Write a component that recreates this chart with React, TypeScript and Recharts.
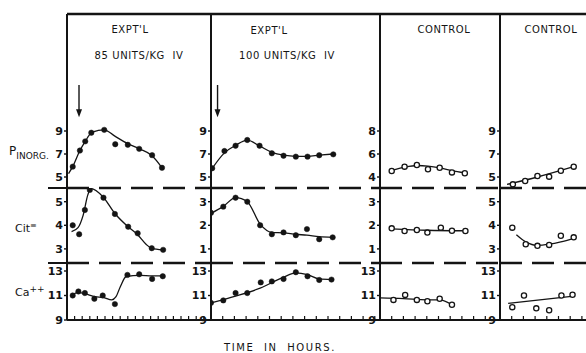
import React from "react";
import { LineChart, Line, XAxis, YAxis, ReferenceLine } from "recharts";

type Pt = { t: number; v: number };
const zip = (t: number[], v: number[]): Pt[] => t.map((x, i) => ({ t: x, v: v[i] }));

const INK = "#141414";
const FONT = "'DejaVu Sans', sans-serif";

// ---- data (t = time, in axis tick steps; v = value) ----
// panel 1: expt'l 85 units/kg IV
const p1PinT = [0.75, 1.7, 2.4, 3.2, 4.9, 6.35, 8.0, 9.5, 11.2, 12.5];
const p1Pin = [5.9, 7.3, 8.1, 8.85, 9.1, 7.85, 7.8, 7.45, 6.9, 5.8];
const p1PinFitT = [0.2, 0.75, 1.7, 2.4, 3.2, 4.1, 4.9, 6.3, 8.0, 9.5, 11.2, 12.5];
const p1PinFit = [5.3, 5.9, 7.3, 8.1, 8.85, 9.05, 9.1, 8.55, 7.9, 7.45, 6.85, 5.8];
const p1CitT = [0.75, 1.6, 2.35, 3.0, 4.8, 6.3, 8.05, 9.3, 11.15, 12.65];
const p1Cit = [4.0, 3.62, 4.65, 5.5, 5.17, 4.48, 3.94, 3.66, 3.03, 2.96];
const p1CitFitT = [0.6, 1.45, 2.1, 2.75, 3.15, 4.75, 6.3, 8.0, 9.3, 10.4, 11.15, 12.6];
const p1CitFit = [3.73, 3.9, 4.4, 5.3, 5.55, 5.2, 4.5, 3.95, 3.6, 3.2, 3.02, 2.96];
const p1CaT = [0.75, 1.5, 2.35, 3.6, 4.7, 6.3, 7.95, 9.5, 11.2, 12.6];
const p1Ca = [11.0, 11.33, 11.2, 10.73, 11.0, 10.3, 12.68, 12.73, 12.35, 12.57];
const p1CaFitT = [0.65, 1.45, 2.35, 3.7, 4.75, 5.9, 6.45, 7.0, 7.8, 9.6, 11.2, 12.6];
const p1CaFit = [11.0, 11.25, 11.15, 10.9, 10.85, 10.65, 10.9, 11.7, 12.55, 12.65, 12.6, 12.6];

// panel 2: expt'l 100 units/kg IV
const p2PinT = [0.1, 1.15, 2.1, 3.1, 4.15, 5.2, 6.2, 7.25, 8.25, 9.25, 10.45];
const p2Pin = [5.76, 7.26, 7.72, 8.22, 7.72, 7.06, 6.85, 6.77, 6.77, 6.89, 6.97];
const p2PinFitT = [0, 1.15, 2.1, 3.1, 4.15, 5.2, 6.2, 7.25, 8.25, 9.25, 10.45];
const p2PinFit = [5.6, 7.1, 7.75, 8.2, 7.7, 7.15, 6.9, 6.8, 6.8, 6.9, 7.0];
const p2CitT = [0.0, 1.05, 2.1, 3.1, 4.2, 5.2, 6.2, 7.25, 8.2, 9.25, 10.4];
const p2Cit = [2.53, 2.79, 3.17, 3.0, 2.0, 1.62, 1.7, 1.58, 1.84, 1.41, 1.49];
const p2CitFit = [2.5, 2.8, 3.17, 3.0, 2.05, 1.7, 1.68, 1.62, 1.58, 1.52, 1.49];
const p2CaT = [0.0, 1.05, 2.1, 3.1, 4.25, 5.2, 6.2, 7.25, 8.25, 9.25, 10.3];
const p2Ca = [10.4, 10.6, 11.2, 11.2, 12.07, 12.15, 12.35, 12.9, 12.57, 12.27, 12.3];
const p2CaFitT = [0, 2.1, 4.2, 6.2, 7.25, 8.25, 9.25, 10.3];
const p2CaFit = [10.4, 10.95, 11.6, 12.5, 12.85, 12.7, 12.35, 12.3];

// panel 3: control
const p3PinT = [1.0, 2.1, 3.15, 4.1, 5.1, 6.15, 7.25];
const p3Pin = [4.52, 4.9, 5.04, 4.67, 4.81, 4.4, 4.32];
const p3PinFit = [4.55, 4.85, 5.0, 4.95, 4.8, 4.55, 4.35];
const p3CitT = [1.0, 2.1, 3.15, 4.05, 5.2, 6.15, 7.3];
const p3Cit = [1.87, 1.76, 1.8, 1.69, 1.9, 1.77, 1.76];
const p3CitFitT = [1.0, 4.0, 7.3];
const p3CitFit = [1.85, 1.79, 1.77];
const p3CaT = [1.15, 2.15, 3.15, 4.05, 5.1, 6.15];
const p3Ca = [10.64, 11.05, 10.64, 10.53, 10.73, 10.24];
const p3CaFitT = [0, 2.0, 4.0, 5.1, 6.15];
const p3CaFit = [10.8, 10.75, 10.65, 10.65, 10.25];

// panel 4: control
const p4PinT = [1.1, 2.15, 3.2, 4.2, 5.2, 6.3];
const p4Pin = [4.36, 4.65, 5.09, 5.03, 5.55, 5.9];
const p4PinFitT = [0.6, 3.2, 6.3];
const p4PinFit = [4.35, 5.0, 5.9];
const p4CitT = [1.05, 2.2, 3.2, 4.2, 5.2, 6.3];
const p4Cit = [3.9, 3.2, 3.13, 3.17, 3.56, 3.49];
const p4CitFitT = [1.4, 2.2, 3.2, 4.2, 5.2, 6.3];
const p4CitFit = [3.6, 3.3, 3.15, 3.2, 3.3, 3.45];
const p4CaT = [1.05, 2.05, 3.1, 4.2, 5.25, 6.2];
const p4Ca = [10.05, 11.0, 9.95, 9.8, 11.0, 11.06];
const p4CaFitT = [0.7, 6.3];
const p4CaFit = [10.35, 10.95];

// tick labels
const P_TICKS = [[5, 7, 9], [5, 7, 9], [4, 6, 8], [5, 7, 9]];
const CIT_TICKS = [[3, 4, 5], [1, 2, 3], [1, 2, 3], [3, 4, 5]];
const CA_TICKS = [9, 11, 13];
const ARROW_T = [1.58, 0.56];
const ARROW_TOP = 13.0;
const ARROW_TIP = 10.2;

// ---- layout ----
const AXIS_X = [67, 211, 380, 500];
const PANEL_W = [144, 169, 120, 86];
const TICK_PX = [7.6, 11.7, 11.7, 11.7];
const Y_W = 22;

type BandKey = "p" | "cit" | "ca";
const BANDS: Record<BandKey, { top: number; bottom: number; refPx: number; ppu: number }> = {
  p: { top: 14, bottom: 188, refPx: 131, ppu: 11.5 },
  cit: { top: 188, bottom: 263, refPx: 201.7, ppu: 23.6 },
  ca: { top: 263, bottom: 320, refPx: 320, ppu: 12.25 },
};

const UpTick = (props: any) => {
  const { x, y } = props;
  return <line x1={x} x2={x} y1={y} y2={y - 4} stroke={INK} strokeWidth={1.2} />;
};

const Arrow = (props: any) => {
  const { x1, y1, x2, y2 } = props;
  return (
    <g>
      <line x1={x1} y1={y1} x2={x2} y2={y2 - 6} stroke={INK} strokeWidth={1.4} />
      <polygon points={`${x2 - 3},${y2 - 8} ${x2 + 3},${y2 - 8} ${x2},${y2}`} fill={INK} />
    </g>
  );
};

interface BandProps {
  panel: number;
  band: BandKey;
  fit: Pt[];
  obs: Pt[];
  ticks: number[];
  hollow?: boolean;
  arrowT?: number;
}

function Band({ panel, band, fit, obs, ticks, hollow, arrowT }: BandProps) {
  const g = BANDS[band];
  const ref = band === "ca" ? ticks[0] : ticks[ticks.length - 1];
  const lo = ref - (g.bottom - g.refPx) / g.ppu;
  const hi = ref + (g.refPx - g.top) / g.ppu;
  const xMax = PANEL_W[panel] / TICK_PX[panel];
  const xTicks = Array.from({ length: Math.floor(xMax - 0.3) }, (_, i) => i + 1);
  const padTop = band === "ca" ? 0 : 3;
  const padBottom = band === "cit" ? 3 : 0;
  const axisH = band === "ca" ? 8 : 0;
  const height = g.bottom - g.top + padTop + padBottom + axisH;
  const dot = hollow
    ? { r: 2.6, fill: "#fff", stroke: INK, strokeWidth: 1.3 }
    : { r: 2.7, fill: INK, stroke: INK, strokeWidth: 0.5 };

  return (
    <div style={{ position: "absolute", left: AXIS_X[panel] - Y_W, top: g.top - padTop }}>
      <LineChart
        width={Y_W + PANEL_W[panel]}
        height={height}
        margin={{ top: padTop, right: 0, bottom: padBottom, left: 0 }}
      >
        <XAxis
          type="number"
          dataKey="t"
          domain={[0, xMax]}
          allowDataOverflow
          hide={band !== "ca"}
          ticks={xTicks}
          interval={0}
          height={axisH}
          tickLine={false}
          tickSize={0}
          tickMargin={0}
          axisLine={{ stroke: INK, strokeWidth: 2 }}
          tick={UpTick}
        />
        <YAxis
          type="number"
          domain={[lo, hi]}
          allowDataOverflow
          ticks={ticks}
          interval={0}
          width={Y_W}
          tickSize={3}
          tickMargin={1}
          axisLine={{ stroke: INK, strokeWidth: 2 }}
          tickLine={{ stroke: INK, strokeWidth: 1.4 }}
          tick={{ fill: INK, fontSize: 11, fontWeight: 700, fontFamily: FONT }}
        />
        {band === "p" && <ReferenceLine y={hi} stroke={INK} strokeWidth={2.5} ifOverflow="visible" />}
        {band === "cit" && (
          <ReferenceLine y={hi} stroke={INK} strokeWidth={2.5} strokeDasharray="22 10" ifOverflow="visible" />
        )}
        {band === "cit" && (
          <ReferenceLine y={lo} stroke={INK} strokeWidth={2.5} strokeDasharray="22 10" ifOverflow="visible" />
        )}
        {arrowT !== undefined && (
          <ReferenceLine
            segment={[
              { x: arrowT, y: ARROW_TOP },
              { x: arrowT, y: ARROW_TIP },
            ]}
            shape={Arrow}
            ifOverflow="visible"
          />
        )}
        <Line
          data={fit}
          dataKey="v"
          type="monotone"
          dot={false}
          stroke={INK}
          strokeWidth={1.3}
          isAnimationActive={false}
        />
        <Line data={obs} dataKey="v" stroke="none" dot={dot} activeDot={false} isAnimationActive={false} />
      </LineChart>
    </div>
  );
}

const Txt = ({ x, y, size = 10, spacing = 0.6, children }: any) => (
  <div
    style={{
      position: "absolute",
      left: x,
      top: y,
      transform: "translate(-50%, -50%)",
      fontFamily: FONT,
      fontSize: size,
      letterSpacing: spacing,
      color: INK,
      whiteSpace: "pre",
      lineHeight: 1,
    }}
  >
    {children}
  </div>
);

const Stub = ({ y }: { y: number }) => (
  <div style={{ position: "absolute", left: 48, top: y - 1.25, width: 19, height: 2.5, background: INK }} />
);

export default function App() {
  return (
    <div
      style={{
        position: "absolute",
        left: 0,
        top: 0,
        width: 586,
        height: 353,
        background: "#fff",
        overflow: "hidden",
      }}
    >
      {/* panel 1 */}
      <Band panel={0} band="p" fit={zip(p1PinFitT, p1PinFit)} obs={zip(p1PinT, p1Pin)} ticks={P_TICKS[0]} arrowT={ARROW_T[0]} />
      <Band panel={0} band="cit" fit={zip(p1CitFitT, p1CitFit)} obs={zip(p1CitT, p1Cit)} ticks={CIT_TICKS[0]} />
      <Band panel={0} band="ca" fit={zip(p1CaFitT, p1CaFit)} obs={zip(p1CaT, p1Ca)} ticks={CA_TICKS} />
      {/* panel 2 */}
      <Band panel={1} band="p" fit={zip(p2PinFitT, p2PinFit)} obs={zip(p2PinT, p2Pin)} ticks={P_TICKS[1]} arrowT={ARROW_T[1]} />
      <Band panel={1} band="cit" fit={zip(p2CitT, p2CitFit)} obs={zip(p2CitT, p2Cit)} ticks={CIT_TICKS[1]} />
      <Band panel={1} band="ca" fit={zip(p2CaFitT, p2CaFit)} obs={zip(p2CaT, p2Ca)} ticks={CA_TICKS} />
      {/* panel 3 */}
      <Band panel={2} band="p" fit={zip(p3PinT, p3PinFit)} obs={zip(p3PinT, p3Pin)} ticks={P_TICKS[2]} hollow />
      <Band panel={2} band="cit" fit={zip(p3CitFitT, p3CitFit)} obs={zip(p3CitT, p3Cit)} ticks={CIT_TICKS[2]} hollow />
      <Band panel={2} band="ca" fit={zip(p3CaFitT, p3CaFit)} obs={zip(p3CaT, p3Ca)} ticks={CA_TICKS} hollow />
      {/* panel 4 */}
      <Band panel={3} band="p" fit={zip(p4PinFitT, p4PinFit)} obs={zip(p4PinT, p4Pin)} ticks={P_TICKS[3]} hollow />
      <Band panel={3} band="cit" fit={zip(p4CitFitT, p4CitFit)} obs={zip(p4CitT, p4Cit)} ticks={CIT_TICKS[3]} hollow />
      <Band panel={3} band="ca" fit={zip(p4CaFitT, p4CaFit)} obs={zip(p4CaT, p4Ca)} ticks={CA_TICKS} hollow />

      <Stub y={188} />
      <Stub y={263} />

      <Txt x={130} y={30}>EXPT'L</Txt>
      <Txt x={139} y={56}>85 UNITS/KG  IV</Txt>
      <Txt x={269} y={31}>EXPT'L</Txt>
      <Txt x={287} y={56}>100 UNITS/KG  IV</Txt>
      <Txt x={444} y={30}>CONTROL</Txt>
      <Txt x={551} y={30}>CONTROL</Txt>
      <Txt x={280} y={348} spacing={1.6}>TIME  IN  HOURS.</Txt>

      <div style={{ position: "absolute", left: 9, top: 142, fontFamily: FONT, color: INK, lineHeight: 1 }}>
        <span style={{ fontSize: 12 }}>P</span>
        <span style={{ fontSize: 9, position: "relative", top: 4 }}>INORG.</span>
      </div>
      <div style={{ position: "absolute", left: 15, top: 219, fontFamily: FONT, color: INK, lineHeight: 1 }}>
        <span style={{ fontSize: 11 }}>Cit</span>
        <span style={{ fontSize: 8, position: "relative", top: -4 }}>≡</span>
      </div>
      <div style={{ position: "absolute", left: 15, top: 283, fontFamily: FONT, color: INK, lineHeight: 1 }}>
        <span style={{ fontSize: 11 }}>Ca</span>
        <span style={{ fontSize: 9, position: "relative", top: -4 }}>++</span>
      </div>
    </div>
  );
}
